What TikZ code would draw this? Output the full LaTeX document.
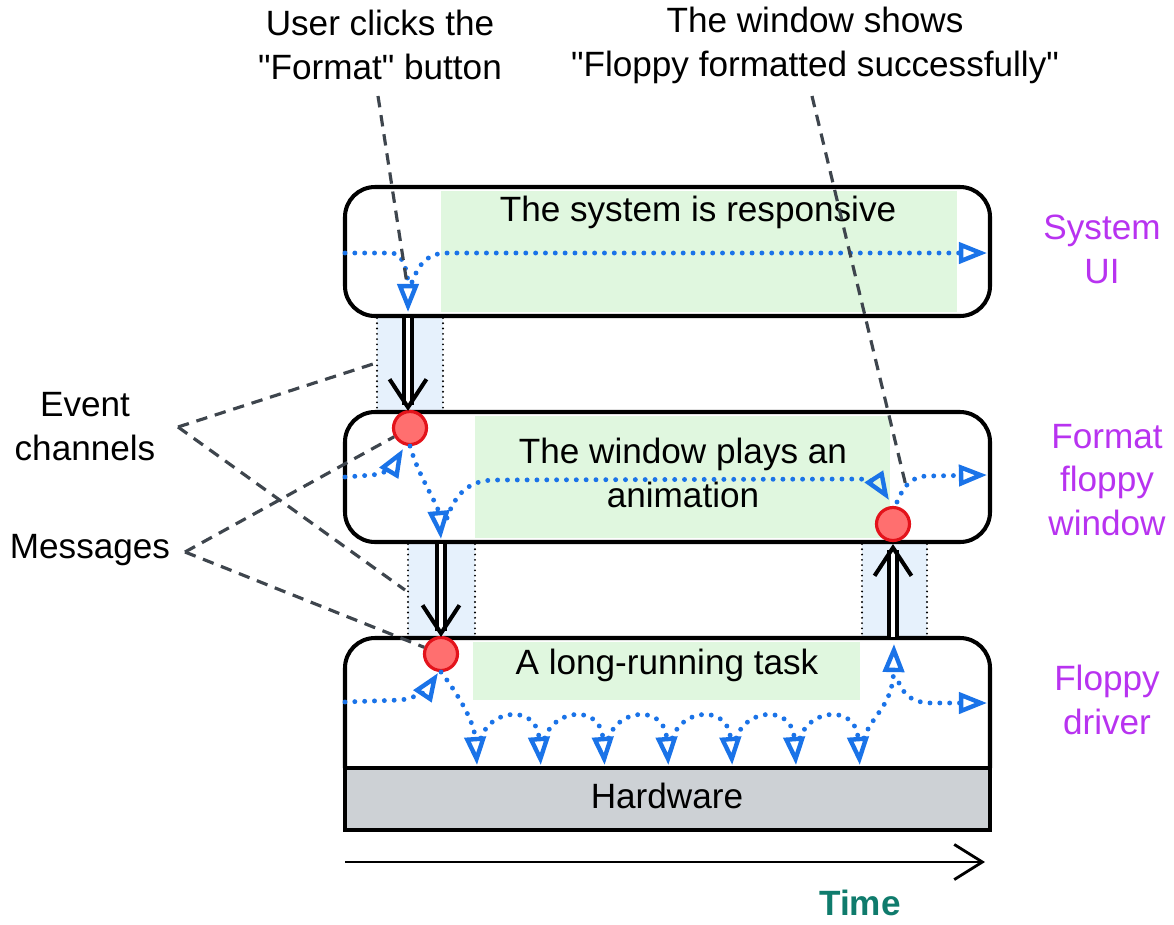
\documentclass[tikz,border=0pt]{standalone}
\usepackage{fontspec}
\setmainfont{Liberation Sans}[Ligatures=TeXOff]
\usetikzlibrary{positioning, calc, arrows.meta}

\definecolor{flowblue}{HTML}{1A73E8}
\definecolor{busygreen}{HTML}{E0F7DF}
\definecolor{chanblue}{HTML}{E6F1FC}
\definecolor{hwgray}{HTML}{CDD1D5}
\definecolor{msgfill}{HTML}{FF6F6F}
\definecolor{msgred}{HTML}{E3131B}
\definecolor{lanemagenta}{HTML}{B833F0}
\definecolor{timeteal}{HTML}{0F7B6C}
\definecolor{pointgray}{HTML}{3E454D}

\tikzset{
  lane/.style={line width=2.3pt, rounded corners=0.6cm},
  chanedge/.style={line width=1.2pt, dash pattern=on 0pt off 3pt, line cap=round},
  flow/.style={draw=flowblue, line width=2.8pt, dash pattern=on 0pt off 5.6pt, line cap=round,
    -{Triangle[open, length=16pt, width=12pt, line width=2.5pt, sep=0pt]}},
  msg/.style={circle, draw=msgred, fill=msgfill, line width=1.8pt, minimum size=0.66cm, inner sep=0pt},
  msgarrow/.style={line width=2.2pt, double, double distance=2.4pt,
    -{Straight Barb[length=16pt, width=21pt, line width=2.3pt]}},
  pointer/.style={draw=pointgray, line width=1.8pt, dash pattern=on 6.5pt off 4.5pt},
  txt/.style={font=\fontsize{20}{25}\selectfont, align=center},
  lanelabel/.style={txt, text=lanemagenta},
}

\begin{document}
\begin{tikzpicture}[x=0.02cm, y=-0.02cm]
  \useasboundingbox (0,0) rectangle (1174,924);

  % busy areas
  \fill[busygreen] (441,191) rectangle (957,312);
  \fill[busygreen] (475,416) rectangle (890,538);
  \fill[busygreen] (473,642) rectangle (860,700);

  % event channels
  \fill[chanblue] (377,318) rectangle (443,410);
  \fill[chanblue] (408,544) rectangle (475,636);
  \fill[chanblue] (862,544) rectangle (927,636);
  \foreach \xl/\yt in {377/318, 443/318, 408/544, 475/544, 862/544, 927/544}
    \draw[chanedge] (\xl,\yt) -- (\xl,\yt+92);

  % lanes
  \draw[lane] (345,187) rectangle (990,316);
  \draw[lane] (345,412) rectangle (990,542);
  \draw[lane] (345,768) -- (345,638) -- (990,638) -- (990,768);
  \draw[line width=2.3pt, fill=hwgray] (345,768) rectangle (990,830);

  % messages
  \node[msg] (msgwin) at (410,428) {};
  \node[msg] (msgdrv) at (441,654) {};
  \node[msg] (msgdone) at (893,524) {};

  % flows in the system UI
  \draw[flow] (345,253) -- (392,253) .. controls (404,253) and (408,275) .. (408,312);
  \draw[flow] (412,282) .. controls (420,262) and (428,253) .. (448,253) -- (987,253);

  % flows in the window
  \draw[flow] (345,477) -- (372,475) .. controls (385,474) and (393,466) .. (403,449);
  \draw[flow] (msgwin.south) .. controls (418,475) and (438,505) .. (441,539);
  \draw[flow] (447,518) .. controls (455,495) and (468,480) .. (495,480) -- (860,479)
    .. controls (872,479) and (880,486) .. (889,500);
  \draw[flow] (897,502) .. controls (903,488) and (910,476) .. (928,476) -- (987,475);

  % flows in the driver
  \draw[flow] (345,702) -- (400,700) .. controls (415,699) and (428,688) .. (438,673);
  \draw[flow] (msgdrv.south) .. controls (455,690) and (474,720) .. (477,765);
  \foreach \i in {0,...,5} {
    \pgfmathsetmacro{\xa}{477+63.8*\i}
    \pgfmathsetmacro{\xb}{477+63.8*(\i+1)}
    \draw[flow] (\xa+4,738) .. controls (\xa+14,708) and (\xb-4,705) .. (\xb,765);
  }
  \draw[flow] (864,738) .. controls (872,715) and (893,705) .. (894,644);
  \draw[flow] (899,683) .. controls (905,697) and (915,703) .. (932,703) -- (987,703);

  % lane texts
  \node[txt] (uitext) at (698,212) {The system is responsive};
  \node[txt] (wintext) at (683,473) {The window plays an\\animation};
  \node[txt] (tasktext) at (667,665) {A long-running task};
  \node[txt] (hwtext) at (667,796) {Hardware};
  \node[lanelabel] (uilabel) at (1102,249) {System\\UI};
  \node[lanelabel] (winlabel) at (1107,480) {Format\\floppy\\window};
  \node[lanelabel] (drvlabel) at (1107,700) {Floppy\\driver};

  % callouts
  \node[txt] (clicktext) at (380,45) {User clicks the\\"Format" button};
  \node[txt] (showtext) at (815,45) {The window shows\\"Floppy formatted successfully"};
  \node[txt] (chanlabel) at (85,427) {Event\\channels};
  \node[txt] (msglabel) at (90,550) {Messages};
  \coordinate (chanfork) at (178,427);
  \coordinate (msgfork) at (185,552);
  \coordinate (clickpt) at (407,284);
  \coordinate (showpt) at (906,486);
  \draw[pointer] (378,96) -- (clickpt);
  \draw[pointer] (812,96) -- (showpt);
  \draw[pointer] (chanfork) -- (373,364);
  \draw[pointer] (chanfork) -- (405,590);
  \draw[pointer] (msgfork) -- (msgwin);
  \draw[pointer] (msgfork) -- (msgdrv);

  % channel arrows
  \coordinate (uiout) at (408,318);
  \coordinate (winin) at (408,411);
  \coordinate (winout) at (441,544);
  \coordinate (drvin) at (441,637);
  \coordinate (drvout) at (893,637);
  \coordinate (winback) at (893,544);
  \draw[msgarrow] (uiout) -- (winin);
  \draw[msgarrow] (winout) -- (drvin);
  \draw[msgarrow] (drvout) -- (winback);

  % time axis
  \coordinate (tstart) at (345,862);
  \coordinate (tend) at (985,862);
  \draw[line width=1.6pt, -{Straight Barb[length=16pt, width=20pt, line width=1.6pt]}] (tstart) -- (tend);
  \node[txt, font=\fontsize{20}{25}\selectfont\bfseries, text=timeteal] (timelabel) at (860,903) {Time};
\end{tikzpicture}
\end{document}
